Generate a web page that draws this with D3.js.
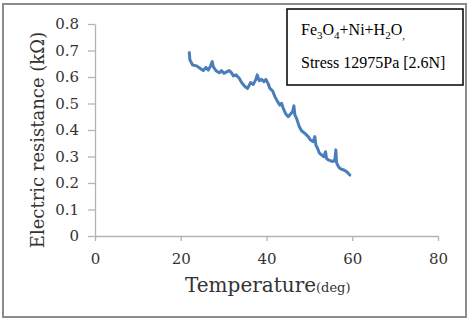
<!DOCTYPE html>
<html>
<head>
<meta charset="utf-8">
<style>
  body { margin: 0; background: #fff; }
  svg { display: block; }
</style>
</head>
<body>
<svg width="472" height="322"></svg>
<script src="https://d3js.org/d3.v7.min.js"></script>
<script>
  // readings: temperature (deg) and resistance (kOhm)
  var temperature = [
    21.99, 22.14, 22.77, 23.70, 24.48, 25.25, 25.87, 26.42, 26.96, 27.35,
    27.58, 28.21, 28.98, 29.53, 30.07, 30.69, 31.31, 31.86, 32.24, 32.87,
    33.64, 34.19, 34.97, 35.59, 36.29, 36.91, 37.53, 37.84, 38.31, 38.85,
    39.39, 39.86, 40.40, 40.79, 41.41, 41.96, 42.58, 43.12, 43.51, 43.90,
    44.52, 45.07, 45.61, 46.08, 46.39, 46.62, 47.01, 47.63, 48.17, 48.95,
    49.73, 50.27, 50.89, 51.28, 51.52, 51.90, 52.29, 52.84, 53.38, 53.77,
    54.00, 54.39, 54.94, 55.56, 55.94, 56.18, 56.33, 56.72, 57.11, 57.50,
    58.04, 58.66, 59.05, 59.44
  ];
  var resistance = [
    0.692, 0.664, 0.645, 0.642, 0.633, 0.624, 0.636, 0.626, 0.642, 0.658,
    0.639, 0.624, 0.616, 0.624, 0.614, 0.619, 0.624, 0.616, 0.604, 0.608,
    0.595, 0.579, 0.564, 0.557, 0.579, 0.572, 0.591, 0.608, 0.586, 0.591,
    0.582, 0.591, 0.574, 0.557, 0.548, 0.526, 0.507, 0.494, 0.501, 0.482,
    0.460, 0.450, 0.460, 0.469, 0.491, 0.457, 0.444, 0.413, 0.397, 0.387,
    0.375, 0.362, 0.356, 0.375, 0.343, 0.331, 0.314, 0.306, 0.299, 0.318,
    0.293, 0.287, 0.284, 0.281, 0.287, 0.325, 0.277, 0.264, 0.255, 0.252,
    0.249, 0.243, 0.237, 0.230
  ];
  var xTicks = [0, 20, 40, 60, 80];
  var yTicks = [0, 0.1, 0.2, 0.3, 0.4, 0.5, 0.6, 0.7, 0.8];

  var data = temperature.map(function(t, i) {
    return { t: t, r: resistance[i] };
  });

  var svg = d3.select("svg");

  // outer frame
  svg.append("rect")
      .attr("x", 3)
      .attr("y", 4)
      .attr("width", 463)
      .attr("height", 313)
      .attr("fill", "#fff")
      .attr("stroke", "#8c8c8c")
      .attr("stroke-width", 2);

  var x = d3.scaleLinear().domain([0, 80]).range([95, 438]);
  var y = d3.scaleLinear().domain([0, 0.8]).range([236, 24]);

  var xAxis = svg.append("g")
      .attr("transform", "translate(0,236)")
      .call(d3.axisBottom(x).tickValues(xTicks).tickSizeInner(5).tickSizeOuter(0).tickPadding(12)
        .tickFormat(d3.format("d")));

  var yAxis = svg.append("g")
      .attr("transform", "translate(95,0)")
      .call(d3.axisLeft(y).tickValues(yTicks).tickSizeInner(7).tickSizeOuter(0).tickPadding(9)
        .tickFormat(function(d) { return d === 0 ? "0" : d3.format(".1f")(d); }));

  [xAxis, yAxis].forEach(function(a) {
    a.select(".domain").attr("stroke", "#b3b3b3").attr("stroke-width", 1.3);
    a.selectAll(".tick line").attr("stroke", "#b3b3b3").attr("stroke-width", 1.3);
    a.selectAll(".tick text")
        .attr("fill", "#333")
        .style("font-family", "'DejaVu Serif'")
        .style("font-size", "15px");
  });

  var line = d3.line()
      .x(function(d) { return x(d.t); })
      .y(function(d) { return y(d.r); });

  svg.append("path")
      .datum(data)
      .attr("fill", "none")
      .attr("stroke", "#4a7ebb")
      .attr("stroke-width", 3)
      .attr("stroke-linejoin", "round")
      .attr("stroke-linecap", "round")
      .attr("d", line);

  // axis titles
  svg.append("text")
      .attr("transform", "translate(44,140) rotate(-90)")
      .attr("text-anchor", "middle")
      .attr("fill", "#333")
      .style("font-family", "'DejaVu Serif'")
      .style("font-size", "18px")
      .text("Electric resistance (k\u03A9)");

  var xt = svg.append("text")
      .attr("x", 185)
      .attr("y", 292)
      .attr("fill", "#333")
      .style("font-family", "'DejaVu Serif'");
  xt.append("tspan").style("font-size", "20px").text("Temperature");
  xt.append("tspan").style("font-size", "13px").text("(deg)");

  // legend box
  svg.append("rect")
      .attr("x", 287)
      .attr("y", 9)
      .attr("width", 176)
      .attr("height", 76)
      .attr("fill", "#fff")
      .attr("stroke", "#000")
      .attr("stroke-width", 1.5);

  var l1 = svg.append("text")
      .attr("x", 301)
      .attr("y", 35)
      .attr("fill", "#000")
      .style("font-family", "'Liberation Serif'")
      .style("font-size", "16px");
  [["Fe", 0], ["3", 1], ["O", 0], ["4", 1], ["+Ni+H", 0], ["2", 1], ["O", 0], [",", 1]].forEach(function(p, i, arr) {
    var prev = i > 0 ? arr[i - 1][1] : 0;
    l1.append("tspan")
        .attr("dy", (p[1] - prev) * 4)
        .style("font-size", p[1] ? "11px" : "16px")
        .text(p[0]);
  });

  svg.append("text")
      .attr("x", 301)
      .attr("y", 68)
      .attr("fill", "#000")
      .style("font-family", "'Liberation Serif'")
      .style("font-size", "16px")
      .text("Stress 12975Pa [2.6N]");
</script>
</body>
</html>
